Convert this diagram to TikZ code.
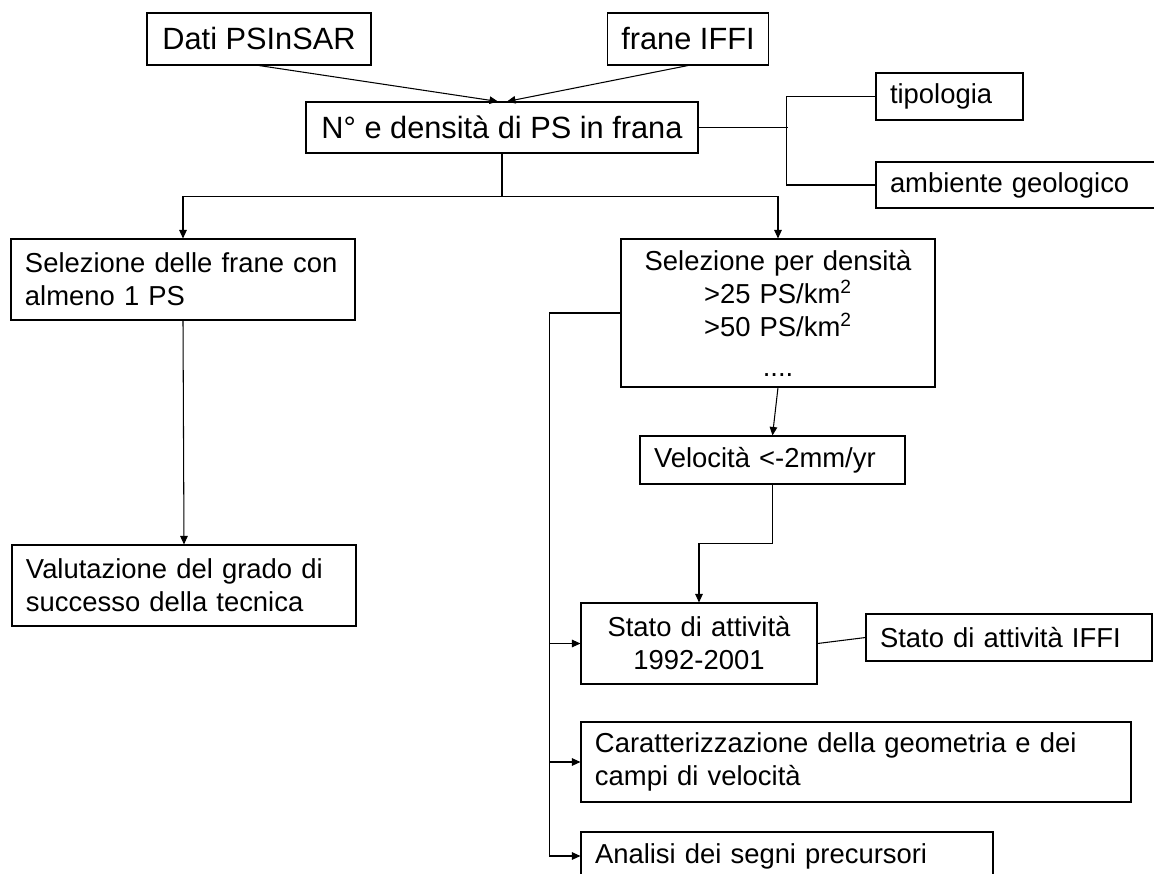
\documentclass[tikz,border=0pt]{standalone}
\usepackage{fontspec}
\setmainfont{Liberation Sans}
\usepackage{tikz}
\usetikzlibrary{positioning,arrows.meta}
\newcommand{\boxfont}{\fontsize{15.6pt}{18.8pt}\selectfont}
\newcommand{\topfont}{\fontsize{17.5pt}{21pt}\selectfont}

\begin{document}
\begin{tikzpicture}[x=0.2mm, y=-0.2mm, font=\boxfont,
  box/.style={draw, line width=0.6pt, inner xsep=2.8mm, inner ysep=0pt, align=left},
  arr/.style={-{Triangle[length=1.7mm, width=1.5mm]}, line width=0.6pt}]
  \useasboundingbox (0,0) rectangle (1154,874);
  \clip (0,0) rectangle (1154,874);
  \node[box, font=\topfont, minimum width=44.8mm, minimum height=10.4mm] (dati) at (259,39) {Dati PSInSAR};
  \node[box, font=\topfont, minimum width=31.2mm, minimum height=10.4mm] (frane) at (688,39) {frane IFFI};
  \node[box, font=\topfont, minimum width=78.4mm, minimum height=10.2mm] (num) at (502,127.5) {N° e densità di PS in frana};
  \node[box, text width=23.8mm, minimum height=9.4mm] (tip) at (949.5,96.5) {tipologia};
  \node[box, text width=52.4mm, minimum height=9.2mm] (amb) at (1021,185) {ambiente geologico};
  \node[box, text width=63.2mm, minimum height=16.2mm] (sel1) at (183,279.5) {Selezione delle frane con\\almeno 1 PS};
  \node[box, text width=57.2mm, align=center, minimum height=29.6mm] (sel2) at (778,313) {Selezione per densità\\>25 PS/km\textsuperscript{2}\\>50 PS/km\textsuperscript{2}\\[4pt]....};
  \node[box, text width=47.4mm, minimum height=9.6mm] (vel) at (772.5,460) {Velocità <-2mm/yr};
  \node[box, text width=63.2mm, minimum height=16.2mm] (valut) at (184,585.5) {Valutazione del grado di\\successo della tecnica};
  \node[box, text width=41.6mm, align=center, minimum height=16.2mm] (stato) at (699,643.5) {Stato di attività\\1992-2001};
  \node[box, text width=51.6mm, minimum height=9.4mm] (iffi) at (1009,637.5) {Stato di attività IFFI};
  \node[box, text width=104.4mm, minimum height=16mm] (carat) at (856,762) {Caratterizzazione della geometria e dei\\campi di velocità};
  \node[box, text width=76.8mm, minimum height=9.6mm] (anal) at (787,856) {Analisi dei segni precursori};
  % inputs
  \draw[arr] (dati.south) -- ([xshift=-0.8mm]num.north);
  \draw[arr] (frane.south) -- ([xshift=1mm]num.north);
  % side branch
  \draw[line width=0.6pt] (num.east) -- ++(89,0);
  \draw[line width=0.6pt] (tip.west) -- ++(-89,0) |- (amb.west);
  % split
  \draw[line width=0.6pt] (num.south) -- ++(0,43) coordinate (split);
  \draw[arr] (split) -| (sel1.north);
  \draw[arr] (split) -| (sel2.north);
  \draw[arr] (sel1.south) -- (valut.north);
  \draw[arr] (sel2.south) -- (vel.north);
  \draw[arr] (vel.south) -- ++(0,59) -| (stato.north);
  \draw[line width=0.6pt] (stato.east) -- (iffi.west);
  % feed line
  \draw[line width=0.6pt] (sel2.west) -- ++(-71,0) coordinate (feed);
  \draw[arr] (feed) |- (stato.west);
  \draw[arr] (feed) |- (carat.west);
  \draw[arr] (feed) |- (anal.west);
\end{tikzpicture}
\end{document}
